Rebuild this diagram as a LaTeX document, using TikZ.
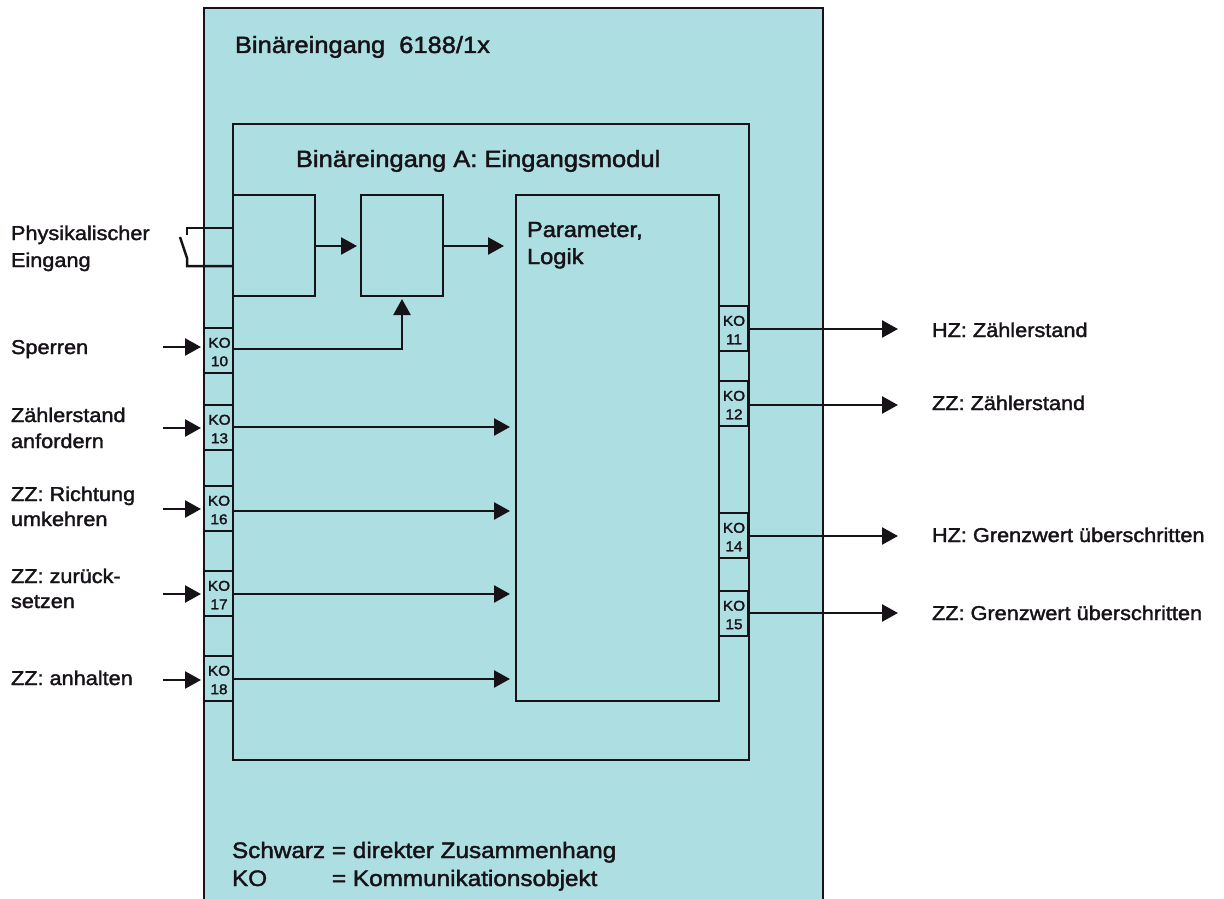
\documentclass[tikz,border=0pt]{standalone}
\usepackage{fontspec}
\setmainfont[FakeStretch=1.085,FakeBold=1.8]{Liberation Sans}
\usetikzlibrary{arrows.meta}
\definecolor{panel}{RGB}{172,222,226}
\definecolor{ink}{RGB}{22,18,24}
\tikzset{
  x=1pt,y=-1pt,
  txt/.style={draw=none,text=ink,inner sep=0pt,outer sep=0pt,anchor=base west,font=\fontsize{20}{24}\selectfont},
  big/.style={txt,font=\fontsize{22.6}{27}\selectfont},
  frame/.style={draw=ink,fill=panel,line width=2.8pt,inner sep=0pt,outer sep=0pt,anchor=north west},
  ko/.style={frame,minimum width=29pt,minimum height=45pt,align=center,text=ink,font=\fontsize{14.2}{18.5}\selectfont},
  wire/.style={line width=2.5pt,draw=ink},
  arr/.style={wire,-{Triangle[length=16pt,width=17pt,fill=ink]}},
}
\newcommand{\kobox}[5]{\node[ko] (#1) at (#2,#3) {\hspace*{#5}\rule{0pt}{13pt}KO\\\hspace*{#5}#4};}
\begin{document}
\begin{tikzpicture}
\useasboundingbox (0,0) rectangle (1224,899);
% outer panel, open at the bottom
\fill[panel] (204,8) rectangle (823,899);
\draw[line width=2.8pt,draw=ink] (204,899) -- (204,8) -- (823,8) -- (823,899);
% module
\node[frame,minimum width=516pt,minimum height=636pt] (mod) at (233,124) {};
\node[frame,minimum width=82pt,minimum height=101pt] (b1) at (233,195) {};
\node[frame,minimum width=82pt,minimum height=101pt] (b2) at (361,195) {};
\node[frame,minimum width=203pt,minimum height=506pt] (par) at (516,195) {};
% KO boxes
\kobox{k10}{204}{328}{10}{2pt}
\kobox{k13}{204}{405}{13}{2pt}
\kobox{k16}{204}{486}{16}{1pt}
\kobox{k17}{204}{571}{17}{1pt}
\kobox{k18}{204}{656}{18}{1pt}
\kobox{k11}{719}{306}{11}{1pt}
\kobox{k12}{719}{381}{12}{1pt}
\kobox{k14}{719}{513}{14}{1pt}
\kobox{k15}{719}{591}{15}{1pt}
% titles
\node[big,font=\fontsize{23.5}{27}\selectfont] (t1) at (235,53) {Binäreingang\hspace{14pt}6188/1x};
\node[big,font=\fontsize{23.5}{27}\selectfont] (t2) at (296,167) {Binäreingang A: Eingangsmodul};
\node[big,font=\fontsize{21.8}{27}\selectfont] (t3) at (527,237) {Parameter,};
\node[big,font=\fontsize{21.8}{27}\selectfont] (t3b) at (527,264) {Logik};
% left labels
\node[txt] (l1) at (11,240) {Physikalischer};
\node[txt] (l1b) at (11,267) {Eingang};
\node[txt] (l2) at (11,354) {Sperren};
\node[txt] (l3) at (11,422) {Zählerstand};
\node[txt] (l3b) at (11,448) {anfordern};
\node[txt] (l4) at (11,501) {ZZ: Richtung};
\node[txt] (l4b) at (11,526) {umkehren};
\node[txt] (l5) at (11,583) {ZZ: zurück-};
\node[txt] (l5b) at (11,608) {setzen};
\node[txt] (l6) at (11,685) {ZZ: anhalten};
% right labels
\node[txt] (r1) at (932,337) {HZ: Zählerstand};
\node[txt] (r2) at (932,410) {ZZ: Zählerstand};
\node[txt] (r3) at (932,542) {HZ: Grenzwert überschritten};
\node[txt] (r4) at (932,620) {ZZ: Grenzwert überschritten};
% legend
\node[big,font=\fontsize{22.4}{27}\selectfont] (n1) at (232,858) {Schwarz = direkter Zusammenhang};
\node[big,font=\fontsize{22.4}{27}\selectfont] (n2) at (232,886) {KO};
\node[big,font=\fontsize{22.4}{27}\selectfont] (n3) at (332,886) {= Kommunikationsobjekt};
% free ends
\coordinate (s10) at (163,347);\coordinate (s13) at (163,428);\coordinate (s16) at (163,509);
\coordinate (s17) at (163,594);\coordinate (s18) at (163,680);
\coordinate (e11) at (898,329);\coordinate (e12) at (898,405);\coordinate (e14) at (898,536);\coordinate (e15) at (898,613);
\coordinate (p13) at (510,427);\coordinate (p16) at (510,511);\coordinate (p17) at (510,594);\coordinate (p18) at (510,679);
% connectors
\draw[arr] (b1.east |- 0,246) -- (357,246);
\draw[arr] (b2.east |- 0,246) -- (504,246);
\draw[arr,shorten >=3pt] (k10.east |- 0,349) -| (b2.south);
\foreach \a/\b in {k13/p13,k16/p16,k17/p17,k18/p18}{\draw[arr] (\a.east |- \b) -- (\b);}
\foreach \a/\b in {k11/e11,k12/e12,k14/e14,k15/e15}{\draw[arr] (\a.east |- \b) -- (\b);}
\foreach \a/\b in {s10/k10,s13/k13,s16/k16,s17/k17,s18/k18}{\draw[arr,shorten >=3pt] (\a) -- (\a -| \b.west);}
% switch
\draw[wire] (b1.west |- 0,228) -- (187,228) -- (187,235);
\draw[wire] (b1.west |- 0,266) -- (187,266) -- (187,258) -- (180,237);
\end{tikzpicture}
\end{document}
